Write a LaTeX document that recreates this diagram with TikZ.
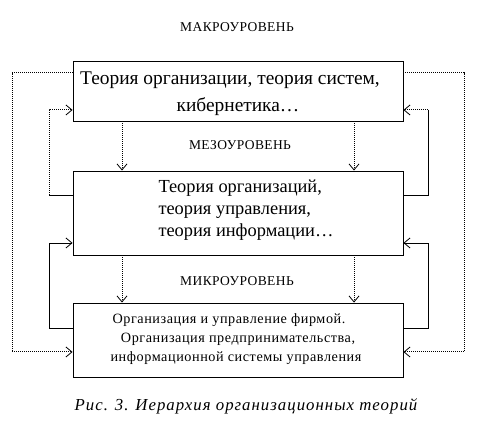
\documentclass[tikz,border=0pt]{standalone}
\usepackage{fontspec}
\setmainfont{Liberation Serif}
\usetikzlibrary{arrows.meta}
\begin{document}
\begin{tikzpicture}[x=1pt,y=-1pt,
  box/.style={draw=black,line width=0.9pt,minimum width=330pt,inner sep=0pt,align=center},
  dots/.style={line width=1pt,densely dotted},
  sol/.style={line width=0.9pt},
  arr/.style={-{Straight Barb[length=6pt,width=10pt,line width=0.8pt]}},
  lvl/.style={font=\fontsize{13.5}{15}\selectfont\addfontfeatures{LetterSpace=3}}
]
\useasboundingbox (0,0) rectangle (488,430);
\node[box,minimum height=60pt] (b1) at (238,91) {};
\node[box,minimum height=84pt] (b2) at (238,213) {};
\node[box,minimum height=74pt] (b3) at (238,340) {};
% texts
\node[font=\fontsize{19.4}{27}\selectfont] (t1) at (230,80) {Теория организации, теория систем,};
\node[font=\fontsize{19.4}{27}\selectfont] (t1b) at (238,107) {кибернетика…};
\node[font=\fontsize{18.4}{22}\selectfont,align=left,anchor=west] (t2) at (155,210) {Теория организаций,\\ теория управления,\\ теория информации…};
\node[font=\fontsize{14.2}{19}\selectfont\addfontfeatures{LetterSpace=4},align=center] (t3) at (236,339) {Организация и управление фирмой.\hspace*{14pt}\\ \ Организация предпринимательства,\\ информационной системы управления};
\node[lvl] (macro) at (237,27) {МАКРОУРОВЕНЬ};
\node[lvl] (meso) at (240,145) {МЕЗОУРОВЕНЬ};
\node[lvl] (micro) at (237,281) {МИКРОУРОВЕНЬ};
\node[font=\fontsize{16.8}{18}\selectfont\itshape\addfontfeatures{LetterSpace=6}] (cap) at (246,406) {Рис. 3. Иерархия организационных теорий};
% coordinates
\coordinate (oL) at (12,73);
\coordinate (oLb) at (12,352);
\coordinate (oR) at (464,73);
\coordinate (oRb) at (464,352);
\coordinate (uLt) at (49,110);
\coordinate (uLb) at (49,195);
\coordinate (lLt) at (49,243);
\coordinate (lLb) at (49,328);
\coordinate (uRt) at (428,110);
\coordinate (uRb) at (428,195);
\coordinate (lRt) at (428,243);
\coordinate (lRb) at (428,328);
\coordinate (vA) at (122,0);
\coordinate (vB) at (354,0);
% outer loops
\draw[dots,arr] (b1.west |- oL) -- (oL) -- (oLb) -- (b3.west |- oLb);
\draw[dots,arr] (b1.east |- oR) -- (oR) -- (oRb) -- (b3.east |- oRb);
% upper inner loops
\draw[sol] (b2.west |- uLb) -- (uLb);
\draw[dots,arr] (uLb) -- (uLt) -- (b1.west |- uLt);
\draw[sol] (b2.east |- uRb) -- (uRb) -- (uRt);
\draw[dots,arr] (uRt) -- (b1.east |- uRt);
% lower inner loops
\draw[sol,arr] (b3.west |- lLb) -- (lLb) -- (lLt) -- (b2.west |- lLt);
\draw[sol,arr] (b3.east |- lRb) -- (lRb) -- (lRt) -- (b2.east |- lRt);
% vertical arrows
\draw[dots,arr] (b1.south -| vA) -- (b2.north -| vA);
\draw[dots,arr] (b1.south -| vB) -- (b2.north -| vB);
\draw[dots,arr] (b2.south -| vA) -- (b3.north -| vA);
\draw[dots,arr] (b2.south -| vB) -- (b3.north -| vB);
\end{tikzpicture}
\end{document}
